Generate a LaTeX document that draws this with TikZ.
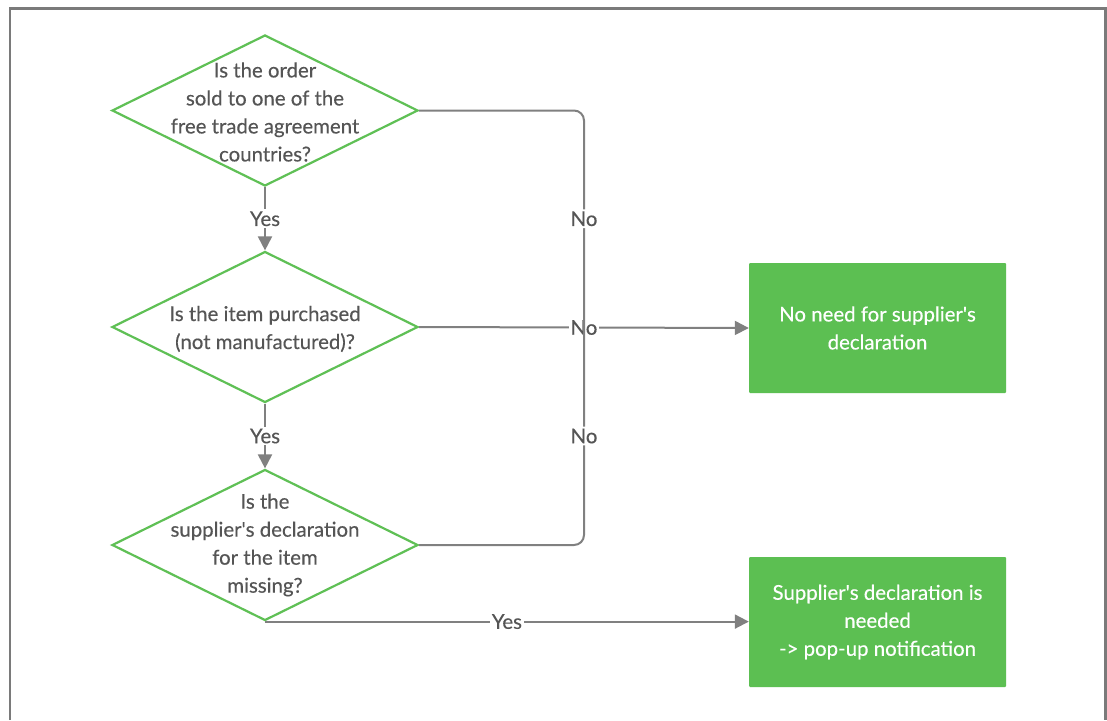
\documentclass[tikz,border=0pt]{standalone}
\usepackage{fontspec}
\setmainfont{Lato}
\newfontfamily\latomed{Lato}[FakeBold=0.35]
\usetikzlibrary{shapes.geometric,arrows.meta}
\definecolor{txtgray}{HTML}{555555}
\definecolor{linegray}{HTML}{808080}
\definecolor{framegray}{HTML}{7A7A7A}
\definecolor{dgreen}{HTML}{5FC055}
\definecolor{boxgreen}{HTML}{5CBF52}
\newcommand{\apos}{\textquotesingle}
\tikzset{
  decision/.style={diamond, draw=dgreen, line width=2.2pt, fill=white,
    minimum width=306pt, minimum height=151pt, inner sep=0pt, aspect=2.03},
  qtext/.style={align=center, text=txtgray, font=\latomed\fontsize{20.4}{28}\selectfont, inner sep=0pt},
  result/.style={rectangle, fill=boxgreen, minimum width=257pt, minimum height=130pt,
    rounded corners=1pt, align=center, text=white, font=\latomed\fontsize{20.4}{28}\selectfont},
  conn/.style={draw=linegray, line width=2pt},
  arr/.style={conn, -{Triangle[length=14pt,width=14pt]}},
  lbl/.style={fill=white, text=txtgray, font=\latomed\fontsize{20.4}{24}\selectfont, inner sep=2pt}
}
\begin{document}
\begin{tikzpicture}[x=1pt,y=-1pt]
\useasboundingbox (0,0) rectangle (1107,720);
\fill[white] (0,0) rectangle (1107,720);
% frame
\draw[framegray, line width=2.4pt] (10,720) -- (10,8.5) -- (1105.5,8.5) -- (1105.5,720);

% decisions
\node[decision] (d1) at (265,110.5) {};
\node[qtext] (t1) at (265,112) {Is the order\\sold to one of the\\free trade agreement\\countries?};
\node[decision] (d2) at (265,327) {};
\node[qtext] (t2) at (265,329) {Is the item purchased\\(not manufactured)?};
\node[decision] (d3) at (265,545) {};
\node[qtext] (t3) at (265,545) {Is the\\supplier\apos s declaration\\for the item\\missing?};

% results
\node[result] (b1) at (877.5,328) {No need for supplier\apos s\\declaration};
\node[result] (b2) at (877.5,622) {Supplier\apos s declaration is\\needed\\-> pop-up notification};

\coordinate (c1) at (584,110.5);
\coordinate (j) at (584,327);
\coordinate (c3) at (584,545);

% connectors
\draw[arr] (d1.south) -- node[lbl]{Yes} (d2.north);
\draw[arr] (d2.south) -- node[lbl]{Yes} (d3.north);
\draw[arr] (d2.east) -- node[lbl]{No} (b1.west);
\draw[conn, rounded corners=10pt] (d1.east) -- (c1) -- node[lbl, pos=0.5]{No} (j);
\draw[conn, rounded corners=10pt] (d3.east) -- (c3) -- node[lbl, pos=0.5]{No} (j);
\draw[arr] (d3.south) -- node[lbl]{Yes} (d3.south -| b2.west);
\end{tikzpicture}
\end{document}
